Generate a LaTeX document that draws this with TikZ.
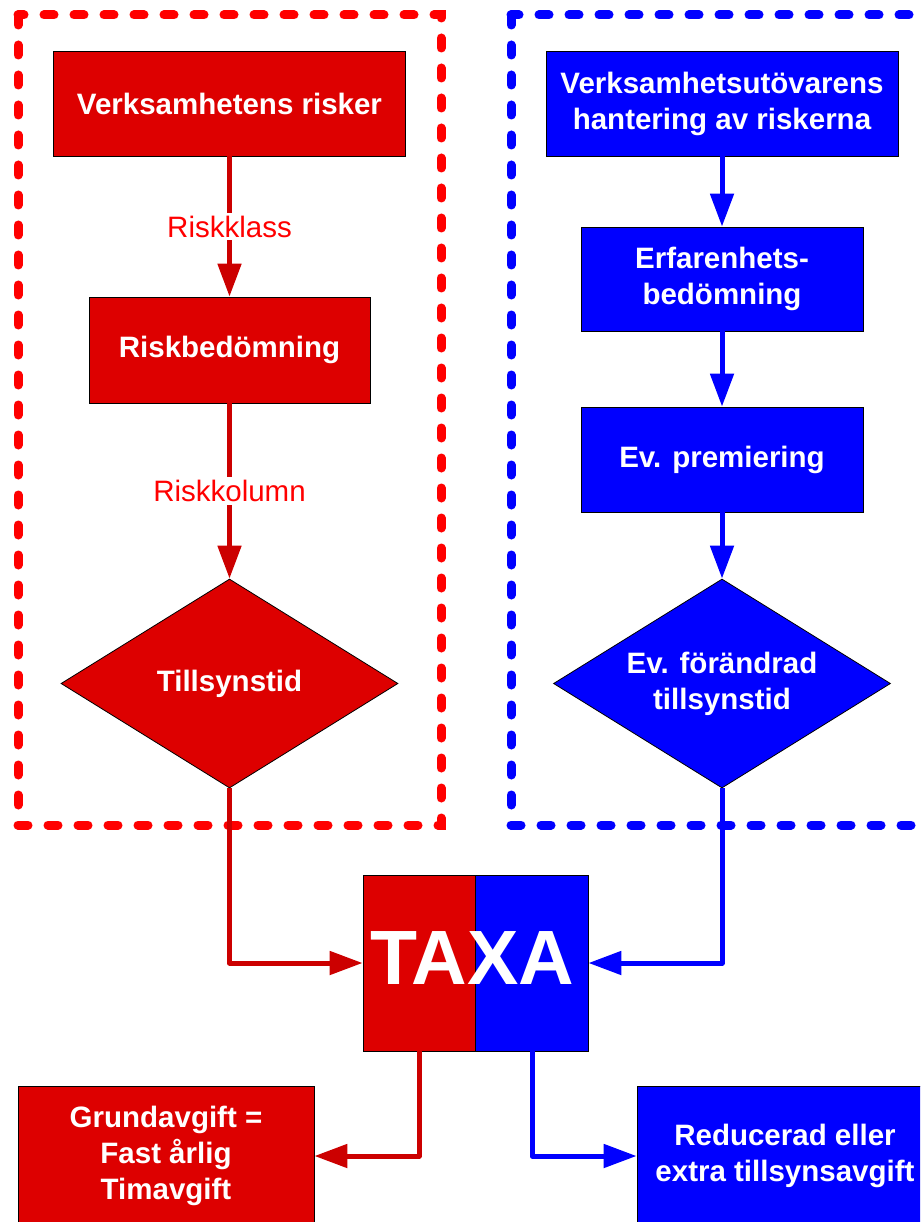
\documentclass[tikz,border=0pt]{standalone}
\usepackage{fontspec}
\setmainfont{Liberation Sans}
\usetikzlibrary{shapes.geometric,arrows.meta}
\definecolor{rfill}{HTML}{DD0000}
\definecolor{rline}{HTML}{CC0000}
\definecolor{rdash}{HTML}{FF0000}
\definecolor{bfill}{HTML}{0000FF}
\begin{document}
\begin{tikzpicture}[x=1pt,y=-1pt,
  box/.style={draw=black, line width=0.8pt, inner sep=0pt, text=white,
    font=\fontsize{29.5}{36}\selectfont\bfseries, align=center},
  rbox/.style={box, fill=rfill},
  bbox/.style={box, fill=bfill},
  dia/.style={draw=black, line width=0.8pt, inner sep=0pt, diamond, minimum width=337pt, minimum height=209pt},
  dtext/.style={inner sep=0pt, text=white, font=\fontsize{29.5}{36}\selectfont\bfseries, align=center},
  frame/.style={line width=9pt, line cap=round, dash pattern=on 10pt off 20pt},
  conn/.style={line width=5pt, line join=round, -{Triangle[length=33pt,width=23pt]}},
  lbl/.style={fill=white, text=rdash, inner sep=3pt, font=\fontsize{29.5}{34}\selectfont}
]
\clip (0,0) rectangle (920,1222);
\fill[white] (0,0) rectangle (920,1222);

% frames
\draw[frame, rdash] (18,15) rectangle (441,825);
\draw[frame, bfill] (511,15) rectangle (980,825);

% red column
\node[rbox, minimum width=352pt, minimum height=105pt] (r1) at (229.5,103.5) {Verksamhetens risker};
\node[rbox, minimum width=281pt, minimum height=106pt] (r2) at (229.5,350) {Riskbedömning};
\node[dia, fill=rfill] (rd) at (229.5,683.5) {};
\node[dtext] (rdt) at (rd.center) {Tillsynstid};

% blue column
\node[bbox, minimum width=352pt, minimum height=105pt] (b1) at (722,103.5) {Verksamhetsutövarens\\hantering av riskerna};
\node[bbox, minimum width=282pt, minimum height=104pt] (b2) at (722,279) {Erfarenhets-\\bedömning};
\node[bbox, minimum width=282pt, minimum height=105pt] (b3) at (722,459.5) {Ev. premiering};
\node[dia, fill=bfill] (bd) at (722,683.5) {};
\node[dtext] (bdt) at (bd.center) {Ev. förändrad\\tillsynstid};

% TAXA
\fill[rfill] (363,875) rectangle (475,1051);
\fill[bfill] (475,875) rectangle (588,1051);
\draw[black, line width=0.6pt] (475,875) -- (475,1051);
\node[draw=black, line width=0.8pt, inner sep=0pt, minimum width=225pt, minimum height=176pt] (taxa) at (475.5,963) {};
\node[inner sep=0pt, text=white, font=\fontsize{77}{80}\selectfont\bfseries] (taxat) at (472,958) {TAXA};

% bottom boxes
\node[rbox, minimum width=296pt, minimum height=140pt] (g) at (166,1156) {Grundavgift =\\Fast årlig\\Timavgift};
\node[bbox, minimum width=296pt, minimum height=140pt] (e) at (785,1156) {Reducerad eller\\extra tillsynsavgift};

% connectors
\draw[conn, rline] (r1.south) -- node[lbl] {Riskklass} (r2.north);
\draw[conn, rline] (r2.south) -- node[lbl] {Riskkolumn} (rd.north);
\draw[conn, bfill] (b1.south) -- (b2.north);
\draw[conn, bfill] (b2.south) -- (b3.north);
\draw[conn, bfill] (b3.south) -- (bd.north);
\draw[conn, rline] (rd.south) |- (taxa.west);
\draw[conn, bfill] (bd.south) |- (taxa.east);
\coordinate (tl) at (419,1051);
\coordinate (tr) at (532,1051);
\draw[conn, rline] (tl) |- (g.east);
\draw[conn, bfill] (tr) |- (e.west);
\end{tikzpicture}
\end{document}
